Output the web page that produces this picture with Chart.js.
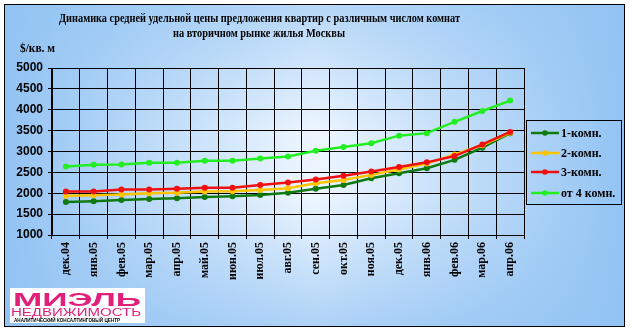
<!DOCTYPE html>
<html><head><meta charset="utf-8">
<script src="https://cdn.jsdelivr.net/npm/chart.js@4.4.0/dist/chart.umd.min.js"></script>
<style>html,body{margin:0;padding:0;background:#fff}#wrap{width:633px;height:332px}</style>
</head><body><div id="wrap"><canvas id="c" width="633" height="332"></canvas></div>
<script>
const categories = ['дек.04','янв.05','фев.05','мар.05','апр.05','май.05','июн.05','июл.05','авг.05','сен.05','окт.05','ноя.05','дек.05','янв.06','фев.06','мар.06','апр.06'];
const room1 = [1790,1810,1840,1860,1880,1910,1930,1960,2010,2110,2200,2360,2480,2600,2800,3090,3440];
const room2 = [1940,1950,1970,2000,2010,2040,2050,2080,2120,2240,2320,2440,2570,2710,2930,3150,3450];
const room3 = [2040,2040,2090,2090,2110,2130,2130,2200,2260,2330,2420,2520,2630,2740,2890,3170,3470];
const room4 = [2640,2680,2690,2730,2730,2780,2780,2830,2880,3020,3110,3200,3380,3440,3710,3970,4220];
const seriesLabels = ['1-комн.','2-комн.','3-комн.','от 4 комн.'];
const seriesColors = ['#107a10','#ffc400','#f01010','#22ee22'];
const titleLines = ['Динамика средней удельной цены предложения квартир с различным числом комнат','на вторичном рынке жилья Москвы'];
const yTitle = '$/кв. м';
const yMin = 1000, yMax = 5000, yStep = 500;

const serif = '"Liberation Serif","Times New Roman",serif';
const sans = '"Liberation Sans",Arial,sans-serif';

function fitText(ctx, text, x, y, w) {
  const m = ctx.measureText(text).width;
  ctx.save();
  ctx.translate(x, y);
  ctx.scale(w / m, 1);
  ctx.fillText(text, 0, 0);
  ctx.restore();
}

const decor = {
  id: 'decor',
  beforeDraw(chart) {
    const ctx = chart.ctx, W = chart.width, H = chart.height;
    ctx.save();
    ctx.fillStyle = '#ffffff';
    ctx.fillRect(0, 0, W, H);
    const g = ctx.createLinearGradient(4, 0, 625, 0);
    g.addColorStop(0, '#92c3f3');
    g.addColorStop(0.5, '#eef6ff');
    g.addColorStop(1, '#92c3f3');
    ctx.fillStyle = g;
    ctx.fillRect(4, 4, 621, 323);
    const g2 = ctx.createLinearGradient(0, 4, 0, 327);
    g2.addColorStop(0, 'rgba(146,195,243,0.6)');
    g2.addColorStop(0.4, 'rgba(146,195,243,0)');
    g2.addColorStop(0.6, 'rgba(146,195,243,0)');
    g2.addColorStop(1, 'rgba(146,195,243,0.7)');
    ctx.fillStyle = g2;
    ctx.fillRect(4, 4, 621, 323);
    ctx.restore();
  },
  afterDraw(chart) {
    const ctx = chart.ctx;
    ctx.save();
    ctx.strokeStyle = '#000';
    ctx.lineWidth = 1;
    ctx.strokeRect(4.5, 4.5, 620, 322);
    ctx.fillStyle = '#000';
    ctx.font = 'bold 12px ' + serif;
    ctx.textBaseline = 'alphabetic';
    ctx.textAlign = 'left';
    fitText(ctx, titleLines[0], 59, 22, 401);
    fitText(ctx, titleLines[1], 173, 37, 172);
    ctx.font = 'bold 12px ' + serif;
    fitText(ctx, yTitle, 20, 52, 35);
    // legend
    ctx.strokeRect(526.5, 120.5, 95, 84);
    const ys = [133, 153, 172, 193];
    ctx.font = 'bold 12px ' + serif;
    ctx.textBaseline = 'middle';
    chart.data.datasets.forEach((ds, i) => {
      const y = ys[i];
      ctx.strokeStyle = ds.borderColor;
      ctx.lineWidth = 2.5;
      ctx.beginPath(); ctx.moveTo(531, y); ctx.lineTo(559, y); ctx.stroke();
      ctx.fillStyle = ds.borderColor;
      ctx.beginPath(); ctx.arc(545, y, 2.8, 0, Math.PI * 2); ctx.fill();
      ctx.fillStyle = '#000';
      ctx.fillText(ds.label, 561, y + 1);
    });
    // logo
    ctx.fillStyle = '#ffffff';
    ctx.fillRect(10, 288, 135, 35);
    ctx.fillStyle = '#e0207a';
    ctx.textBaseline = 'alphabetic';
    ctx.font = 'bold 19px ' + sans;
    fitText(ctx, 'МИЭЛЬ', 13, 306, 128);
    ctx.font = '10px ' + sans;
    fitText(ctx, 'НЕДВИЖИМОСТЬ', 11, 316, 130);
    ctx.fillStyle = '#000';
    ctx.font = 'bold 6px ' + sans;
    fitText(ctx, 'АНАЛИТИЧЕСКИЙ КОНСАЛТИНГОВЫЙ ЦЕНТР', 14, 322, 106);
    ctx.restore();
  }
};

const series = [room1, room2, room3, room4];
const datasets = series.map((d, i) => ({
  label: seriesLabels[i],
  data: d,
  borderColor: seriesColors[i],
  backgroundColor: seriesColors[i],
  borderWidth: 2.5,
  pointRadius: 3,
  pointHoverRadius: 3,
  pointBorderWidth: 0,
  pointBackgroundColor: seriesColors[i],
  tension: 0,
  fill: false,
  order: 3 - i
}));

new Chart(document.getElementById('c'), {
  type: 'line',
  data: { labels: categories, datasets },
  options: {
    responsive: false,
    animation: false,
    devicePixelRatio: 1,
    layout: { padding: { left: 0, top: 68, right: 109, bottom: 0 } },
    plugins: { legend: { display: false }, title: { display: false }, tooltip: { enabled: false } },
    scales: {
      x: {
        offset: true,
        grid: { offset: true, color: '#000', lineWidth: 1, tickLength: 4, drawTicks: true },
        border: { color: '#000', width: 1 },
        ticks: { color: '#000', font: { family: serif, size: 12, weight: 'bold' }, minRotation: 90, maxRotation: 90, padding: 3, autoSkip: false },
        afterFit(s) { s.height = 97; }
      },
      y: {
        min: yMin, max: yMax,
        grid: { color: '#000', lineWidth: 1, tickLength: 4 },
        border: { color: '#000', width: 1 },
        ticks: { stepSize: yStep, color: '#000', font: { family: sans, size: 12, weight: 'bold' }, padding: 5, callback: (v) => String(v) },
        afterFit(s) { s.width = 52; }
      }
    }
  },
  plugins: [decor]
});
</script></body></html>
